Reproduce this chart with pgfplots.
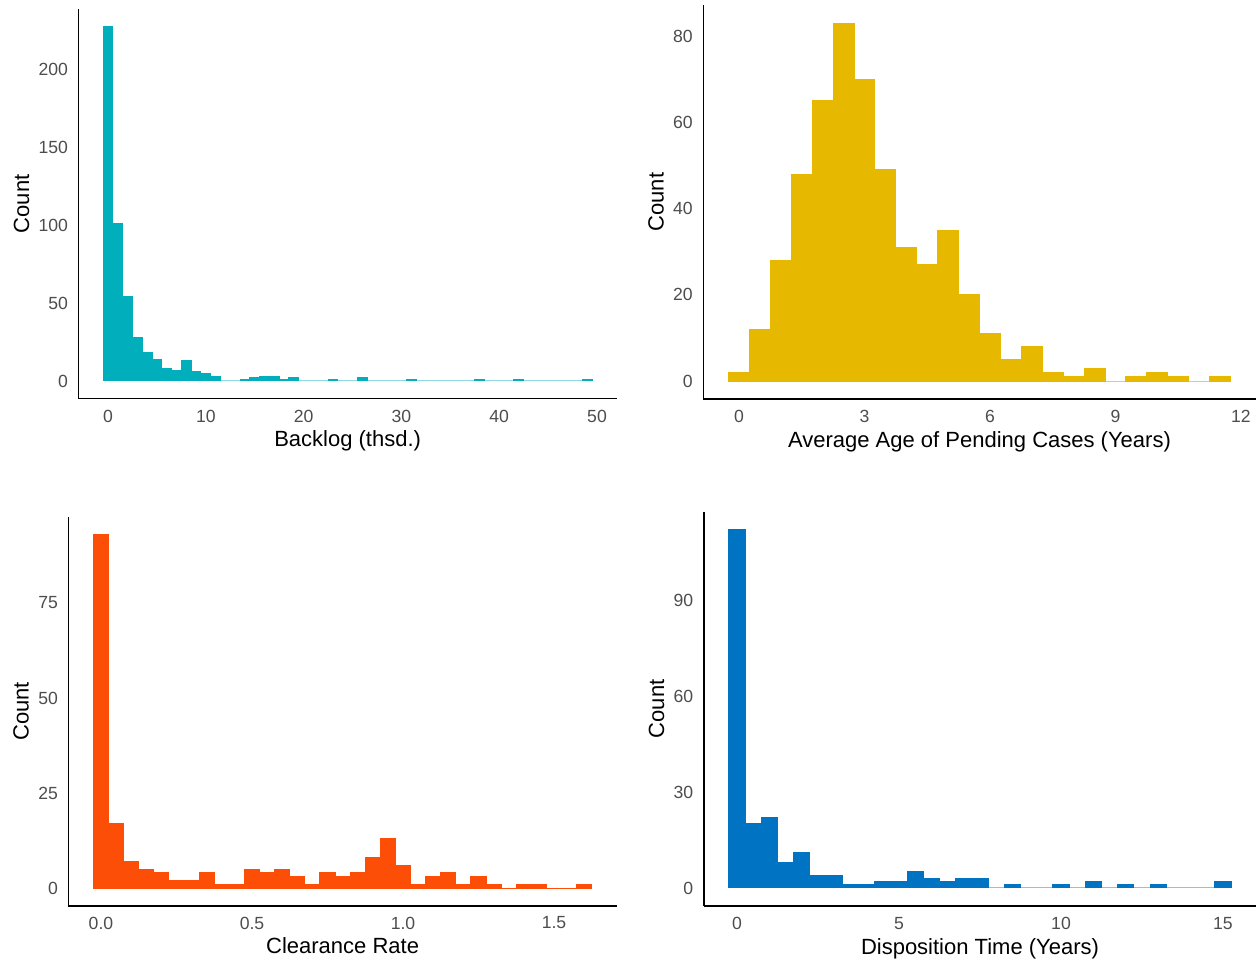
\documentclass[border=0pt]{standalone}
\usepackage{fontspec}
\setmainfont{Liberation Sans}
\usepackage{pgfplots}
\usepackage{pgfplotstable}
\pgfplotsset{compat=1.18}

\definecolor{cA}{HTML}{00AFBB}
\definecolor{cB}{HTML}{E7B800}
\definecolor{cC}{HTML}{FC4E07}
\definecolor{cD}{HTML}{0073C2}
\definecolor{tickgray}{HTML}{4D4D4D}

% left bin edges and counts (last row = right edge of last bin)
\pgfplotstableread{
x y
-0.5 227
0.5 101
1.5 54
2.5 28
3.5 18
4.5 14
5.5 8
6.5 7
7.5 13
8.5 6
9.5 5
10.5 3
11.5 0
12.5 0
13.5 1
14.5 2
15.5 3
16.5 3
17.5 1
18.5 2
19.5 0
20.5 0
21.5 0
22.5 1
23.5 0
24.5 0
25.5 2
26.5 0
27.5 0
28.5 0
29.5 0
30.5 1
31.5 0
32.5 0
33.5 0
34.5 0
35.5 0
36.5 0
37.5 1
38.5 0
39.5 0
40.5 0
41.5 1
42.5 0
43.5 0
44.5 0
45.5 0
46.5 0
47.5 0
48.5 1
49.5 1
}\tabA

\pgfplotstableread{
x y
-0.25 2
0.25 12
0.75 28
1.25 48
1.75 65
2.25 83
2.75 70
3.25 49
3.75 31
4.25 27
4.75 35
5.25 20
5.75 11
6.25 5
6.75 8
7.25 2
7.75 1
8.25 3
8.75 0
9.25 1
9.75 2
10.25 1
10.75 0
11.25 1
11.75 1
}\tabB

\pgfplotstableread{
x y
-0.025 93
0.025 17
0.075 7
0.125 5
0.175 4
0.225 2
0.275 2
0.325 4
0.375 1
0.425 1
0.475 5
0.525 4
0.575 5
0.625 3
0.675 1
0.725 4
0.775 3
0.825 4
0.875 8
0.925 13
0.975 6
1.025 1
1.075 3
1.125 4
1.175 1
1.225 3
1.275 1
1.325 0
1.375 1
1.425 1
1.475 0
1.525 0
1.575 1
1.625 1
}\tabC

\pgfplotstableread{
x y
-0.25 112
0.25 20
0.75 22
1.25 8
1.75 11
2.25 4
2.75 4
3.25 1
3.75 1
4.25 2
4.75 2
5.25 5
5.75 3
6.25 2
6.75 3
7.25 3
7.75 0
8.25 1
8.75 0
9.25 0
9.75 1
10.25 0
10.75 2
11.25 0
11.75 1
12.25 0
12.75 1
13.25 0
13.75 0
14.25 0
14.75 2
15.25 2
}\tabD

\pgfplotsset{
  hist/.style={
    scale only axis,
    anchor=south west,
    axis lines*=left,
    axis line style={black, line width=0.8pt},
    major tick length=0pt,
    tick style={draw=none},
    ticklabel style={font=\fontsize{8.8}{10}\selectfont, text=tickgray},
    /pgf/number format/assume math mode=true,
    label style={font=\fontsize{11}{13}\selectfont, text=black},
    ylabel={Count},
    xticklabel style={yshift=-2pt},
    yticklabel style={xshift=-1.8pt},
    xlabel style={yshift=2.5pt},
    ylabel style={yshift=-2.2pt},
  },
  bars/.style={ybar interval, fill=#1, draw=#1, line width=0.5pt},
}

\begin{document}
\begin{tikzpicture}
\fill[white] (0,0) rectangle (629.5pt,480pt);
\path[use as bounding box] (0,0) rectangle (629.5pt,480pt);

\begin{axis}[hist, at={(39.33pt,280.65pt)}, width=268.97pt, height=194.75pt,
  xmin=-3, xmax=52, ymin=-11.35, ymax=238.35,
  xtick={0,10,20,30,40,50}, ytick={0,50,100,150,200},
  xlabel={Backlog (thsd.)}]
\addplot[bars=cA] table[x=x,y=y] {\tabA};
\end{axis}

\begin{axis}[hist, at={(351.7pt,280.55pt)}, width=276.1pt, height=196.85pt,
  xmin=-0.85, xmax=12.35, ymin=-4.15, ymax=87.15,
  xtick={0,3,6,9,12}, ytick={0,20,40,60,80},
  xlabel={Average Age of Pending Cases (Years)}]
\addplot[bars=cB] table[x=x,y=y] {\tabB};
\end{axis}

\begin{axis}[hist, at={(34.25pt,27.15pt)}, width=274.1pt, height=194.4pt,
  xmin=-0.1075, xmax=1.7075, ymin=-4.65, ymax=97.65,
  xtick={0,0.5,1,1.5}, xticklabels={0.0,0.5,1.0,1.5}, ytick={0,25,50,75},
  xlabel={Clearance Rate}]
\addplot[bars=cC] table[x=x,y=y] {\tabC};
\end{axis}

\begin{axis}[hist, at={(351.9pt,27.05pt)}, width=276.2pt, height=197.1pt,
  xmin=-1.025, xmax=16.025, ymin=-5.6, ymax=117.6,
  xtick={0,5,10,15}, ytick={0,30,60,90},
  xlabel={Disposition Time (Years)}]
\addplot[bars=cD] table[x=x,y=y] {\tabD};
\end{axis}
\end{tikzpicture}
\end{document}
